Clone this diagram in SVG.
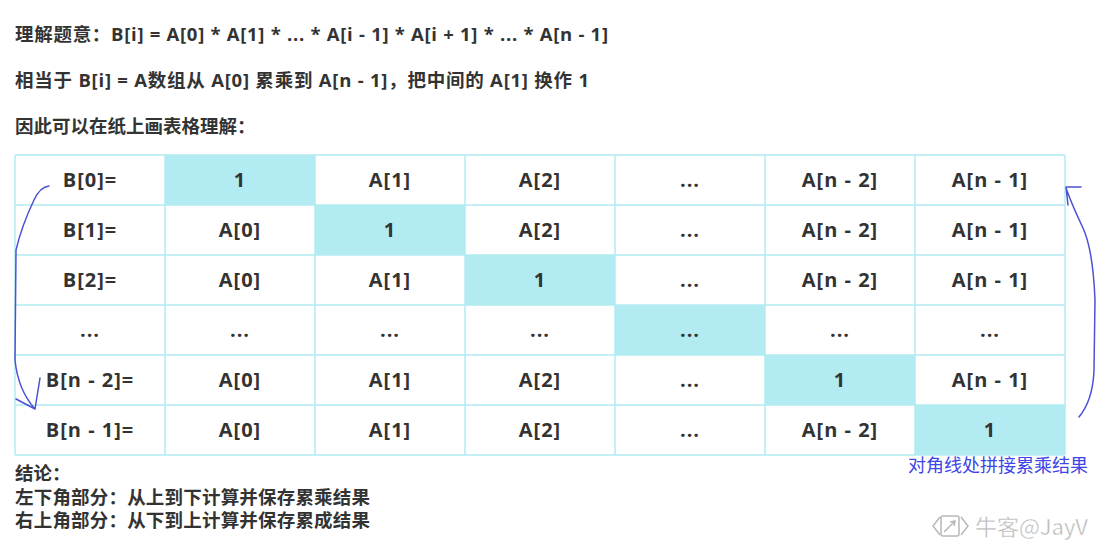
<svg xmlns="http://www.w3.org/2000/svg" width="1112" height="551" viewBox="0 0 1112 551">
<style>
.t{font-family:"Open Sans","Noto Sans CJK SC",sans-serif;font-weight:bold;fill:#333}
.h{font-size:18.5px}
.c{font-size:20px;letter-spacing:1px;text-anchor:middle}
.f{font-size:18.5px}
.grid{stroke:#b2ebf2;stroke-width:1.5;fill:none}
.hl{fill:#b2ebf2}
.arr{stroke:#4a52d6;stroke-width:1.5;fill:none;stroke-linecap:round;stroke-linejoin:round}
.lbl{font-family:"Noto Sans CJK SC",sans-serif;font-size:18px;fill:#3d46e6}
.wm{font-family:"Noto Sans CJK SC",sans-serif;font-size:22px;fill:#b8b8b8;stroke:#fff;stroke-width:0.4}
</style>
<rect width="1112" height="551" fill="#fff"/>
<g id="intro">
<text class="t h" x="15" y="41" textLength="593" lengthAdjust="spacing">理解题意：B[i] = A[0] * A[1] * ... * A[i - 1] * A[i + 1] * ... * A[n - 1]</text>
<text class="t h" x="15" y="87" textLength="574" lengthAdjust="spacing">相当于 B[i] = A数组从 A[0] 累乘到 A[n - 1]，把中间的 A[1] 换作 1</text>
<text class="t h" x="15" y="133">因此可以在纸上画表格理解：</text>
</g>
<g id="table">
<rect class="hl" x="165" y="155" width="150" height="50"/>
<rect class="hl" x="315" y="205" width="150" height="50"/>
<rect class="hl" x="465" y="255" width="150" height="50"/>
<rect class="hl" x="615" y="305" width="150" height="50"/>
<rect class="hl" x="765" y="355" width="150" height="50"/>
<rect class="hl" x="915" y="405" width="150" height="50"/>
<path class="grid" d="M15,155H1065M15,205H1065M15,255H1065M15,305H1065M15,355H1065M15,405H1065M15,455H1065M15,155V455M165,155V455M315,155V455M465,155V455M615,155V455M765,155V455M915,155V455M1065,155V455"/>
<g class="t c">
<text x="90" y="187">B[0]=</text><text x="240" y="187">1</text><text x="390" y="187">A[1]</text><text x="540" y="187">A[2]</text><text x="690" y="187">...</text><text x="840" y="187">A[n - 2]</text><text x="990" y="187">A[n - 1]</text>
<text x="90" y="237">B[1]=</text><text x="240" y="237">A[0]</text><text x="390" y="237">1</text><text x="540" y="237">A[2]</text><text x="690" y="237">...</text><text x="840" y="237">A[n - 2]</text><text x="990" y="237">A[n - 1]</text>
<text x="90" y="287">B[2]=</text><text x="240" y="287">A[0]</text><text x="390" y="287">A[1]</text><text x="540" y="287">1</text><text x="690" y="287">...</text><text x="840" y="287">A[n - 2]</text><text x="990" y="287">A[n - 1]</text>
<text x="90" y="337">...</text><text x="240" y="337">...</text><text x="390" y="337">...</text><text x="540" y="337">...</text><text x="690" y="337">...</text><text x="840" y="337">...</text><text x="990" y="337">...</text>
<text x="90" y="387">B[n - 2]=</text><text x="240" y="387">A[0]</text><text x="390" y="387">A[1]</text><text x="540" y="387">A[2]</text><text x="690" y="387">...</text><text x="840" y="387">1</text><text x="990" y="387">A[n - 1]</text>
<text x="90" y="437">B[n - 1]=</text><text x="240" y="437">A[0]</text><text x="390" y="437">A[1]</text><text x="540" y="437">A[2]</text><text x="690" y="437">...</text><text x="840" y="437">A[n - 2]</text><text x="990" y="437">1</text>
</g>
</g>
<g id="connectors">
<path class="arr" d="M49,186 Q40,187 34,200 Q22,225 16,250 L15,360 Q18,390 35,409 M16,399 L35,409 L40,378"/>
<path class="arr" d="M1079,417 Q1093,400 1094,370 L1095,300 Q1093,250 1083,228 Q1072,205 1066,188 M1081,187 L1066,187 L1068,205"/>
</g>
<g id="diag-label">
<text class="lbl" x="908" y="472">对角线处拼接累乘结果</text>
</g>
<g id="conclusion">
<text class="t f" x="15" y="480">结论：</text>
<text class="t f" x="15" y="504" textLength="355" lengthAdjust="spacing">左下角部分：从上到下计算并保存累乘结果</text>
<text class="t f" x="15" y="527" textLength="355" lengthAdjust="spacing">右上角部分：从下到上计算并保存累成结果</text>
</g>
<g id="watermark">
<g fill="none" stroke="#b8b8b8" stroke-width="1.5">
<path d="M940,517 L933,526 L940,535"/>
<path d="M961,517 L968,526 L961,535"/>
<rect x="941" y="516" width="18" height="20" rx="2"/>
<path d="M944,532 L955,521 M950,522 L955,521 L954,526"/>
</g>
<text class="wm" x="975" y="535">牛客@JayV</text>
</g>
</svg>
